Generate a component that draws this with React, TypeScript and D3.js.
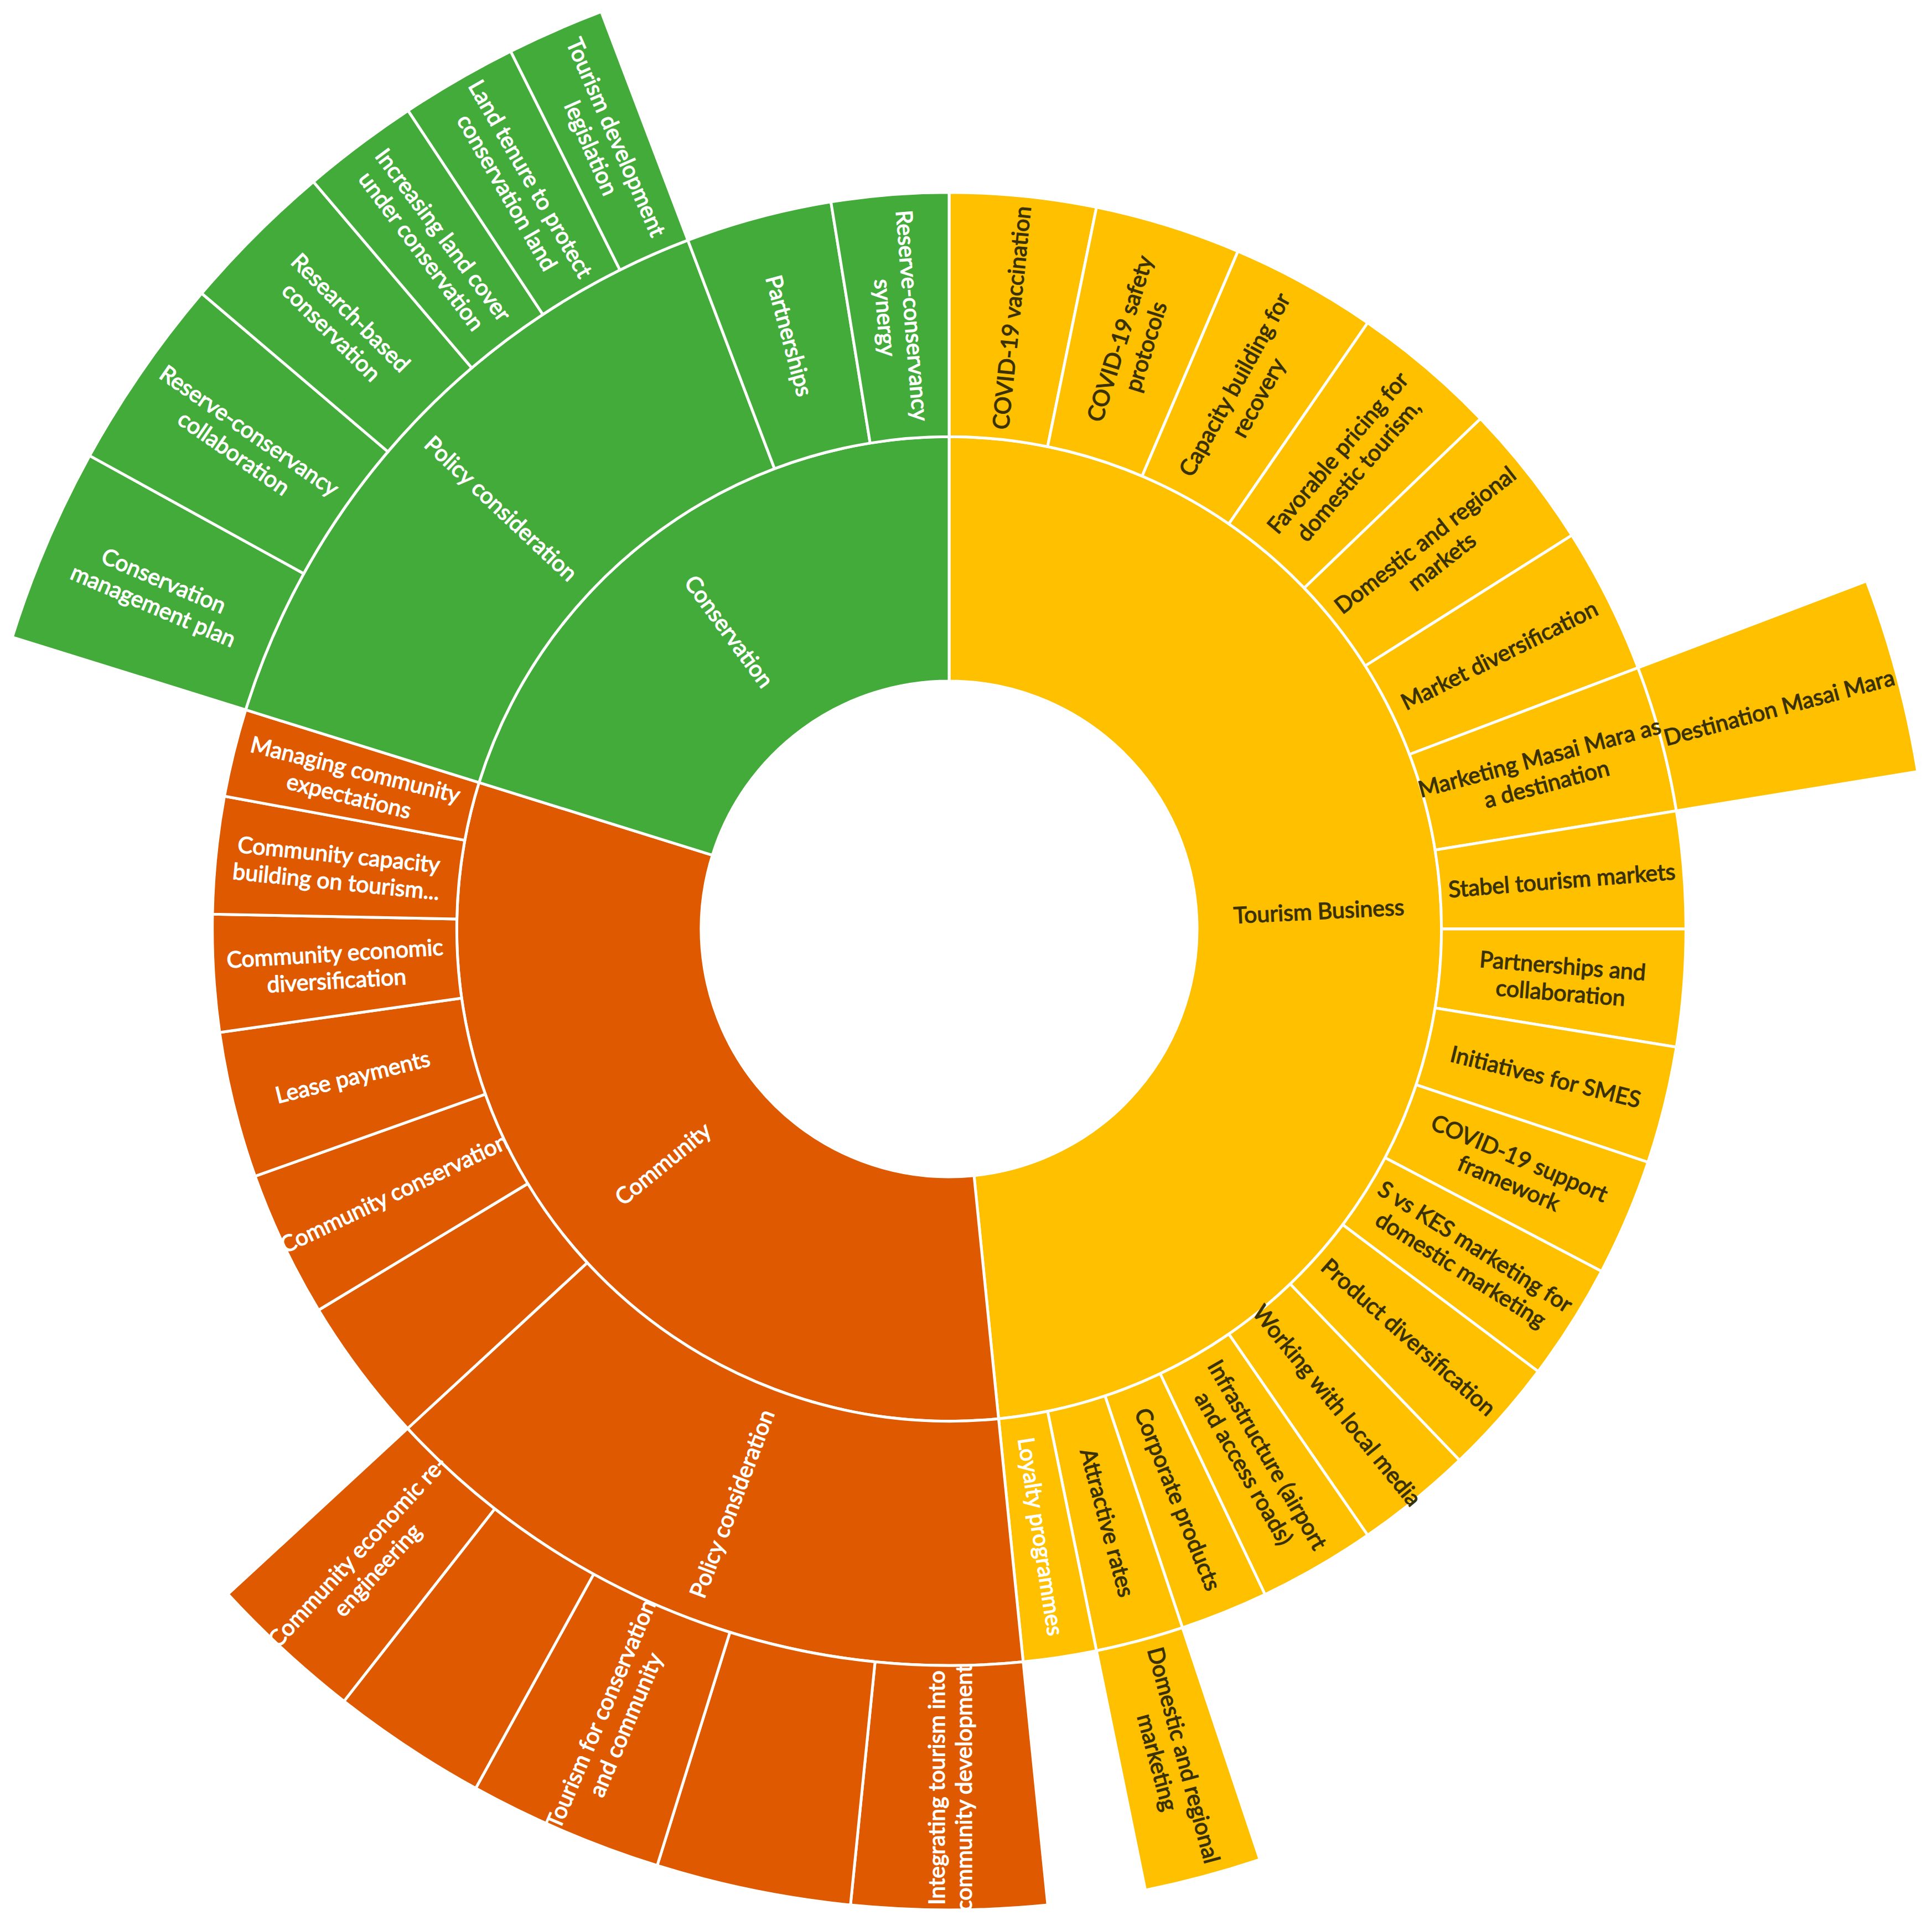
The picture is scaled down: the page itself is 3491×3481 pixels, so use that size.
import React, { useMemo } from "react"
import * as d3 from "d3"

// ring 1
const groupLabels = ["Tourism Business", "Community", "Conservation"]
const groupColors = ["#FFC000", "#DE5900", "#43AB3A"]
const groupText = ["#3B3200", "#FFFFFF", "#FFFFFF"]

// ring 2 / 3 under Tourism Business
const tourismLabels = [
  "COVID-19 vaccination",
  "COVID-19 safety\nprotocols",
  "Capacity building for\nrecovery",
  "Favorable pricing for\ndomestic tourism,",
  "Domestic and regional\nmarkets",
  "Market diversification",
  "Marketing Masai Mara as\na destination",
  "Stabel tourism markets",
  "Partnerships and\ncollaboration",
  "Initiatives for SMES",
  "COVID-19 support\nframework",
  "S vs KES marketing for\ndomestic marketing",
  "Product diversification",
  "Working with local media",
  "Infrastructure (airport\nand access roads)",
  "Corporate products",
  "Attractive rates",
  "Loyalty programmes",
]
const tourismValues = [10, 10, 10, 10, 10, 10, 10, 8, 8, 8, 8, 8, 8, 8, 8, 6, 6, 5]
const tourismOuterParent = [6, 16]
const tourismOuterLabels = ["Destination Masai Mara", "Domestic and regional\nmarketing"]
const tourismOuterValues = [10, 6]

// ring 2 / 3 under Community
const communityLabels = [
  "Policy consideration",
  "",
  "Community conservation",
  "Lease payments",
  "Community economic\ndiversification",
  "Community capacity\nbuilding on tourism...",
  "Managing community\nexpectations",
]
const communityValues = [0, 10, 10, 10, 8, 8, 6]
const communityPolicyLabels = [
  "Integrating tourism into\ncommunity development",
  "",
  "Tourism for conservation\nand community",
  "",
  "Community economic re-\nengineering",
]
const communityPolicyValues = [10, 10, 10, 8, 8]

// ring 2 / 3 under Conservation
const conservationLabels = ["Policy consideration", "Partnerships", "Reserve-conservancy\nsynergy"]
const conservationValues = [0, 10, 8]
const conservationPolicyLabels = [
  "Conservation\nmanagement plan",
  "Reserve-conservancy\ncollaboration",
  "Research-based\nconservation",
  "Increasing land cover\nunder conservation",
  "Land tenure to protect\nconservation land",
  "Tourism development\nlegislation",
]
const conservationPolicyValues = [10, 10, 8, 6, 6, 5]

// labels drawn white although they sit on yellow
const lightLabels = ["Loyalty programmes"]

type Node = { name: string; value?: number; children?: Node[] }

function level(labels: string[], values: number[], nested: Record<number, Node[]> = {}): Node[] {
  return labels.map((name, i) => (nested[i] ? { name, children: nested[i] } : { name, value: values[i] }))
}

const W = 3475
const H = 3465
const cx = 1707
const cy = 1671

export default function App() {
  const nodes = useMemo(() => {
    const tourismNested: Record<number, Node[]> = {}
    tourismOuterParent.forEach((p, i) => {
      tourismNested[p] = level([tourismOuterLabels[i]], [tourismOuterValues[i]])
    })
    const data: Node = {
      name: "root",
      children: [
        { name: groupLabels[0], children: level(tourismLabels, tourismValues, tourismNested) },
        {
          name: groupLabels[1],
          children: level(communityLabels, communityValues, {
            0: level(communityPolicyLabels, communityPolicyValues),
          }),
        },
        {
          name: groupLabels[2],
          children: level(conservationLabels, conservationValues, {
            0: level(conservationPolicyLabels, conservationPolicyValues),
          }),
        },
      ],
    }
    const root = d3.hierarchy<Node>(data).sum((d) => (d.children ? 0 : d.value || 0))
    d3.partition<Node>().size([2 * Math.PI, 4])(root)
    return root.descendants().filter((d) => d.depth > 0) as d3.HierarchyRectangularNode<Node>[]
  }, [])

  const r = d3.scaleLinear().domain([1, 4]).range([448, 1773])
  const arc = d3
    .arc<d3.HierarchyRectangularNode<Node>>()
    .startAngle((d) => d.x0)
    .endAngle((d) => d.x1)
    .innerRadius((d) => r(d.y0))
    .outerRadius((d) => r(d.y1))

  const top = (d: d3.HierarchyRectangularNode<Node>) => groupLabels.indexOf(d.ancestors().find((a) => a.depth === 1)!.data.name)

  const fontSize = 41
  const lineH = 49

  return (
    <svg width={W} height={H} style={{ display: "block" }}>
      <g transform={`translate(${cx},${cy})`}>
        {nodes.map((d, i) => (
          <path key={i} d={arc(d) || ""} fill={groupColors[top(d)]} stroke="#FFFFFF" strokeWidth={5} strokeLinejoin="round" />
        ))}
        {nodes.map((d, i) => {
          if (!d.data.name) return null
          const a = (d.x0 + d.x1) / 2
          const deg = (a * 180) / Math.PI
          const rr = (r(d.y0) + r(d.y1)) / 2
          const x = rr * Math.sin(a)
          const y = -rr * Math.cos(a)
          const rot = deg < 180 ? deg - 90 : deg - 270
          const lines = d.data.name.split("\n")
          const g = top(d)
          const fill = lightLabels.includes(d.data.name) ? "#FFFFFF" : groupText[g]
          return (
            <text
              key={"t" + i}
              transform={`translate(${x},${y}) rotate(${rot})`}
              textAnchor="middle"
              dominantBaseline="central"
              fontFamily="Lato, 'Open Sans', sans-serif"
              fontSize={fontSize}
              fill={fill}
              stroke={fill}
              strokeWidth={1.3}
            >
              {lines.map((l, k) => (
                <tspan key={k} x={0} y={(k - (lines.length - 1) / 2) * lineH}>
                  {l}
                </tspan>
              ))}
            </text>
          )
        })}
      </g>
    </svg>
  )
}
